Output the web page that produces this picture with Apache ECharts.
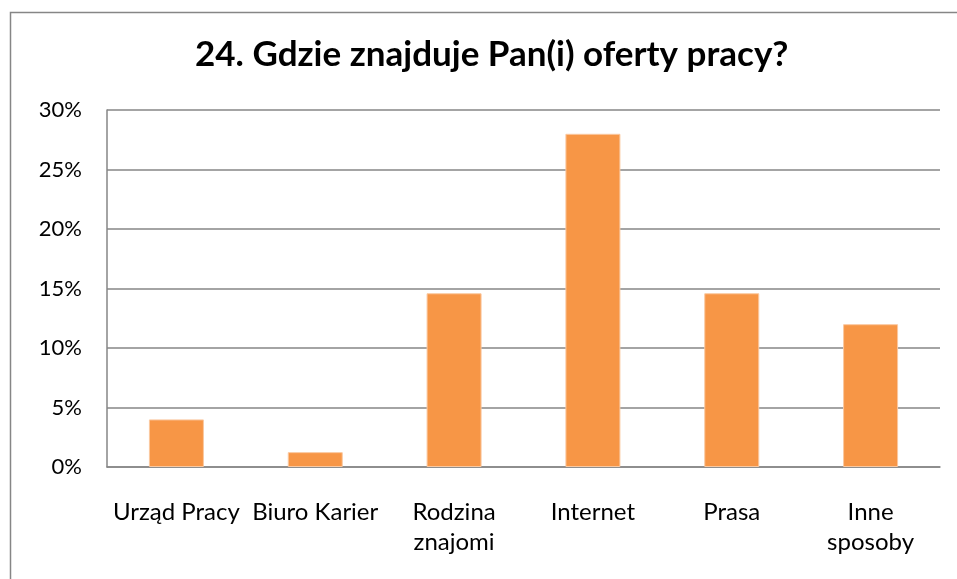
<!DOCTYPE html>
<html>
<head>
<meta charset="utf-8">
<script src="https://cdn.jsdelivr.net/npm/echarts@6/dist/echarts.min.js"></script>
<style>html,body{margin:0;padding:0;background:#fff;}#c{width:957px;height:579px;}</style>
</head>
<body>
<div id="c"></div>
<script>
const titleText = '24. Gdzie znajduje Pan(i) oferty pracy?';
const categories = ['Urząd Pracy', 'Biuro Karier', 'Rodzina\nznajomi', 'Internet', 'Prasa', 'Inne\nsposoby'];
const values = [4, 1.25, 14.6, 28, 14.6, 12];
const yTicks = [0, 5, 10, 15, 20, 25, 30];

const chart = echarts.init(document.getElementById('c'), null, {renderer: 'canvas'});
const FONT = 'Lato, "Open Sans", sans-serif';
chart.setOption({
  animation: false,
  backgroundColor: '#ffffff',
  graphic: [{
    type: 'rect', left: 8, top: 10, silent: true,
    shape: {x: 0, y: 0, width: 1000, height: 700},
    style: {fill: 'none', stroke: '#868686', lineWidth: 1.5}
  }],
  title: {
    text: titleText, left: 190, top: 32,
    textStyle: {fontFamily: FONT, fontWeight: 'bold', fontSize: 35, color: '#000'}
  },
  grid: {left: 107, right: 17, top: 110, bottom: 112, containLabel: false},
  xAxis: {
    type: 'category', data: categories,
    axisLine: {show: true, lineStyle: {color: '#868686', width: 1.5}},
    axisTick: {show: false},
    axisLabel: {fontFamily: FONT, fontSize: 24, color: '#000', margin: 30, lineHeight: 30, interval: 0}
  },
  yAxis: {
    type: 'value', min: yTicks[0], max: yTicks[yTicks.length - 1], interval: 5,
    axisLine: {show: true, lineStyle: {color: '#868686', width: 1.5}},
    axisTick: {show: false},
    splitLine: {show: true, lineStyle: {color: '#868686', width: 1.5}},
    axisLabel: {fontFamily: FONT, fontSize: 22, color: '#000', margin: 25, formatter: v => v + '%'}
  },
  series: [{
    type: 'bar', data: values, barWidth: 55,
    itemStyle: {color: '#F79646', borderColor: '#FAC8A0', borderWidth: 1}
  }]
});
</script>
</body>
</html>
